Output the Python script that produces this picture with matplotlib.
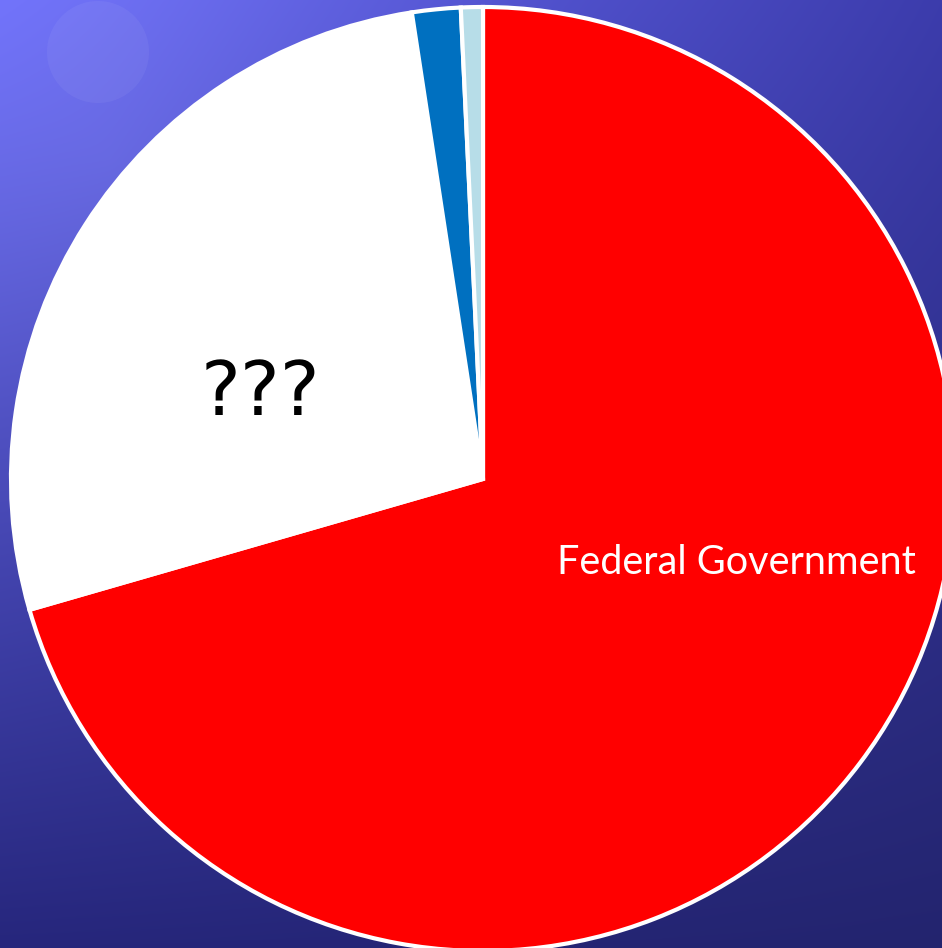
import numpy as np
import matplotlib.pyplot as plt
from matplotlib.patches import Circle

# share of the slices, clockwise from 12 o'clock
labels = ["Federal Government", "???", "", ""]
shares = [70.53, 27.06, 1.66, 0.75]
colors = ["#FF0000", "#FFFFFF", "#0070C0", "#B7DDE8"]

W, H = 942, 948

fig = plt.figure(figsize=(W / 100, H / 100), dpi=100)
ax = fig.add_axes([0, 0, 1, 1])

# background: bluish gradient, light in the top-left, dark in the bottom-right
yy, xx = np.mgrid[0:H, 0:W]
u = xx / W
v = yy / H
tl = np.array([108, 110, 248])
tr = np.array([60, 60, 172])
bl = np.array([38, 38, 124])
br = np.array([35, 36, 110])
bg = ((1 - u)[..., None] * (1 - v)[..., None] * tl + u[..., None] * (1 - v)[..., None] * tr
      + (1 - u)[..., None] * v[..., None] * bl + u[..., None] * v[..., None] * br)
d = np.hypot(xx - 110, yy - 160) / 520.0
glow = np.clip(1 - d, 0, 1) ** 1.5
bg = bg + glow[..., None] * np.array([12, 12, 6])
bg = np.clip(bg, 0, 255) / 255.0
ax.imshow(bg, extent=(0, W, 0, H), origin="upper", aspect="auto", zorder=0)

ax.add_patch(Circle((98, H - 52), 51, color="white", alpha=0.05, lw=0, zorder=1))

cx, cy, r = 483, H - 479, 472
wedges, _ = ax.pie(shares, colors=colors, startangle=90, counterclock=False,
                   center=(cx, cy), radius=r, frame=True,
                   wedgeprops=dict(edgecolor="white", linewidth=3))
for w in wedges:
    w.set_zorder(2)

ax.text(736, H - 562, labels[0], color="white", fontsize=28.5, family="Lato",
        ha="center", va="center", zorder=3)
ax.text(260, H - 394, labels[1], color="black", fontsize=54, family="DejaVu Sans",
        ha="center", va="center", zorder=3)

ax.set_xlim(0, W)
ax.set_ylim(0, H)
ax.set_aspect("auto")
ax.axis("off")

fig.savefig("out.png", dpi=100)
